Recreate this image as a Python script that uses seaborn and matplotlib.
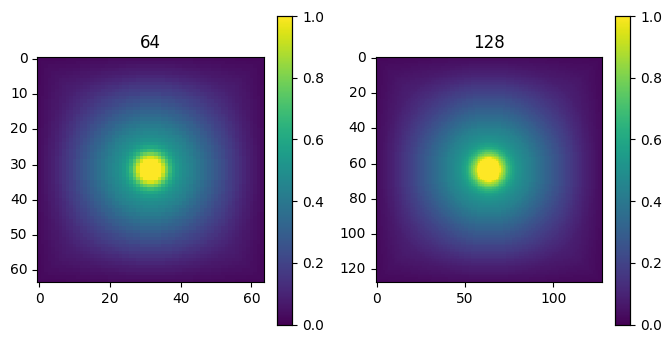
import numpy as np
import matplotlib
matplotlib.use("Agg")
import matplotlib.pyplot as plt
import seaborn as sns

# Grid sizes shown in the two panels
sizes = [64, 128]
x_ticks = [[0, 20, 40, 60], [0, 50, 100]]
y_ticks = [[0, 10, 20, 30, 40, 50, 60], [0, 20, 40, 60, 80, 100, 120]]

# Value per distance from the centre,
# one entry per 1/128 of the image width
radial_values = [
    1.00, 1.00, 1.00, 1.00, 1.00, 1.00, 1.00, 0.94, 0.87, 0.80,
    0.74, 0.68, 0.64, 0.60, 0.57, 0.545, 0.525, 0.51, 0.495, 0.483,
    0.472, 0.461, 0.45, 0.44, 0.43, 0.417, 0.405, 0.392, 0.38, 0.367,
    0.355, 0.342, 0.33, 0.32, 0.31, 0.297, 0.285, 0.275, 0.265, 0.255,
    0.245, 0.235, 0.225, 0.215, 0.205, 0.197, 0.19, 0.182, 0.175, 0.167,
    0.16, 0.152, 0.145, 0.137, 0.13, 0.125, 0.12, 0.115, 0.11, 0.105,
    0.10, 0.095, 0.09, 0.087, 0.085, 0.083, 0.081, 0.079, 0.077, 0.075,
    0.073, 0.071, 0.069, 0.067, 0.065, 0.063, 0.062, 0.061, 0.060, 0.059,
    0.058, 0.057, 0.056, 0.055, 0.054, 0.053, 0.052, 0.051, 0.050, 0.050,
    0.050, 0.050,
]

# Finer readings around the bright spot, from entry 5 to 20 in quarter steps
core_values = [
    1.00, 1.00, 1.00, 1.00,
    1.00, 1.00, 0.99, 0.97,
    0.94, 0.92, 0.90, 0.885,
    0.87, 0.85, 0.835, 0.82,
    0.80, 0.785, 0.77, 0.755,
    0.74, 0.725, 0.71, 0.695,
    0.68, 0.67, 0.66, 0.65,
    0.64, 0.63, 0.62, 0.61,
    0.60, 0.59, 0.58, 0.575,
    0.57, 0.563, 0.557, 0.551,
    0.545, 0.54, 0.535, 0.53,
    0.525, 0.521, 0.517, 0.513,
    0.51, 0.506, 0.502, 0.498,
    0.495, 0.492, 0.489, 0.486,
    0.483, 0.48, 0.477, 0.474,
    0.472,
]

# Darkening towards the border, same step, by distance from the nearest edge
edge_values = [
    0.40, 0.44, 0.48, 0.52, 0.56, 0.60, 0.64, 0.68, 0.71, 0.74,
    0.77, 0.80, 0.83, 0.86, 0.88, 0.90, 0.92, 0.94, 0.95, 0.96,
    0.97, 0.98, 0.99, 0.995, 1.00,
]


def make_grid(n):
    # look up every cell in the tables above
    radial = np.array(radial_values)
    core = np.array(core_values)
    edge = np.array(edge_values)
    idx = np.arange(n)
    xx, yy = np.meshgrid(idx, idx)
    scale = 128 / n
    r = np.hypot(xx - (n - 1) / 2, yy - (n - 1) / 2) * scale
    d = np.minimum.reduce([xx, yy, n - 1 - xx, n - 1 - yy]) * scale
    r_idx = np.clip(np.round(r).astype(int), 0, len(radial) - 1)
    core_idx = np.clip(np.round((r - 5) * 4).astype(int), 0, len(core) - 1)
    d_idx = np.clip(np.round(d).astype(int), 0, len(edge) - 1)
    values = np.where(r < 20, core[core_idx], radial[r_idx])
    values = np.where(r < 5, 1.0, values)
    return values * edge[d_idx]


W, H = 672, 342
fig = plt.figure(figsize=(W / 100, H / 100), dpi=100)

ax_boxes = [(37.3, 57.3, 226.4, 225.0), (376.0, 57.3, 225.7, 225.0)]
cb_boxes = [(277.2, 16.0, 15.2, 308.5), (615.3, 16.0, 15.0, 308.5)]

for i, n in enumerate(sizes):
    x, y, w, h = ax_boxes[i]
    ax = fig.add_axes([x / W, 1 - (y + h) / H, w / W, h / H])
    x, y, w, h = cb_boxes[i]
    cax = fig.add_axes([x / W, 1 - (y + h) / H, w / W, h / H])

    sns.heatmap(make_grid(n), ax=ax, cbar_ax=cax, cmap="viridis", vmin=0, vmax=1)

    # cell centres sit at +0.5 in heatmap coordinates
    ax.set_xticks([t + 0.5 for t in x_ticks[i]])
    ax.set_xticklabels(x_ticks[i], rotation=0)
    ax.set_yticks([t + 0.5 for t in y_ticks[i]])
    ax.set_yticklabels(y_ticks[i], rotation=0)
    ax.set_title(str(n), fontsize=12, pad=7)
    for spine in ax.spines.values():
        spine.set_visible(True)
        spine.set_linewidth(0.8)

    cax.set_yticks([0, 0.2, 0.4, 0.6, 0.8, 1.0])
    cax.tick_params(labelsize=10, length=3.5, width=0.8)
    for spine in cax.spines.values():
        spine.set_visible(True)
        spine.set_linewidth(0.8)

fig.savefig("out.png", dpi=100)
